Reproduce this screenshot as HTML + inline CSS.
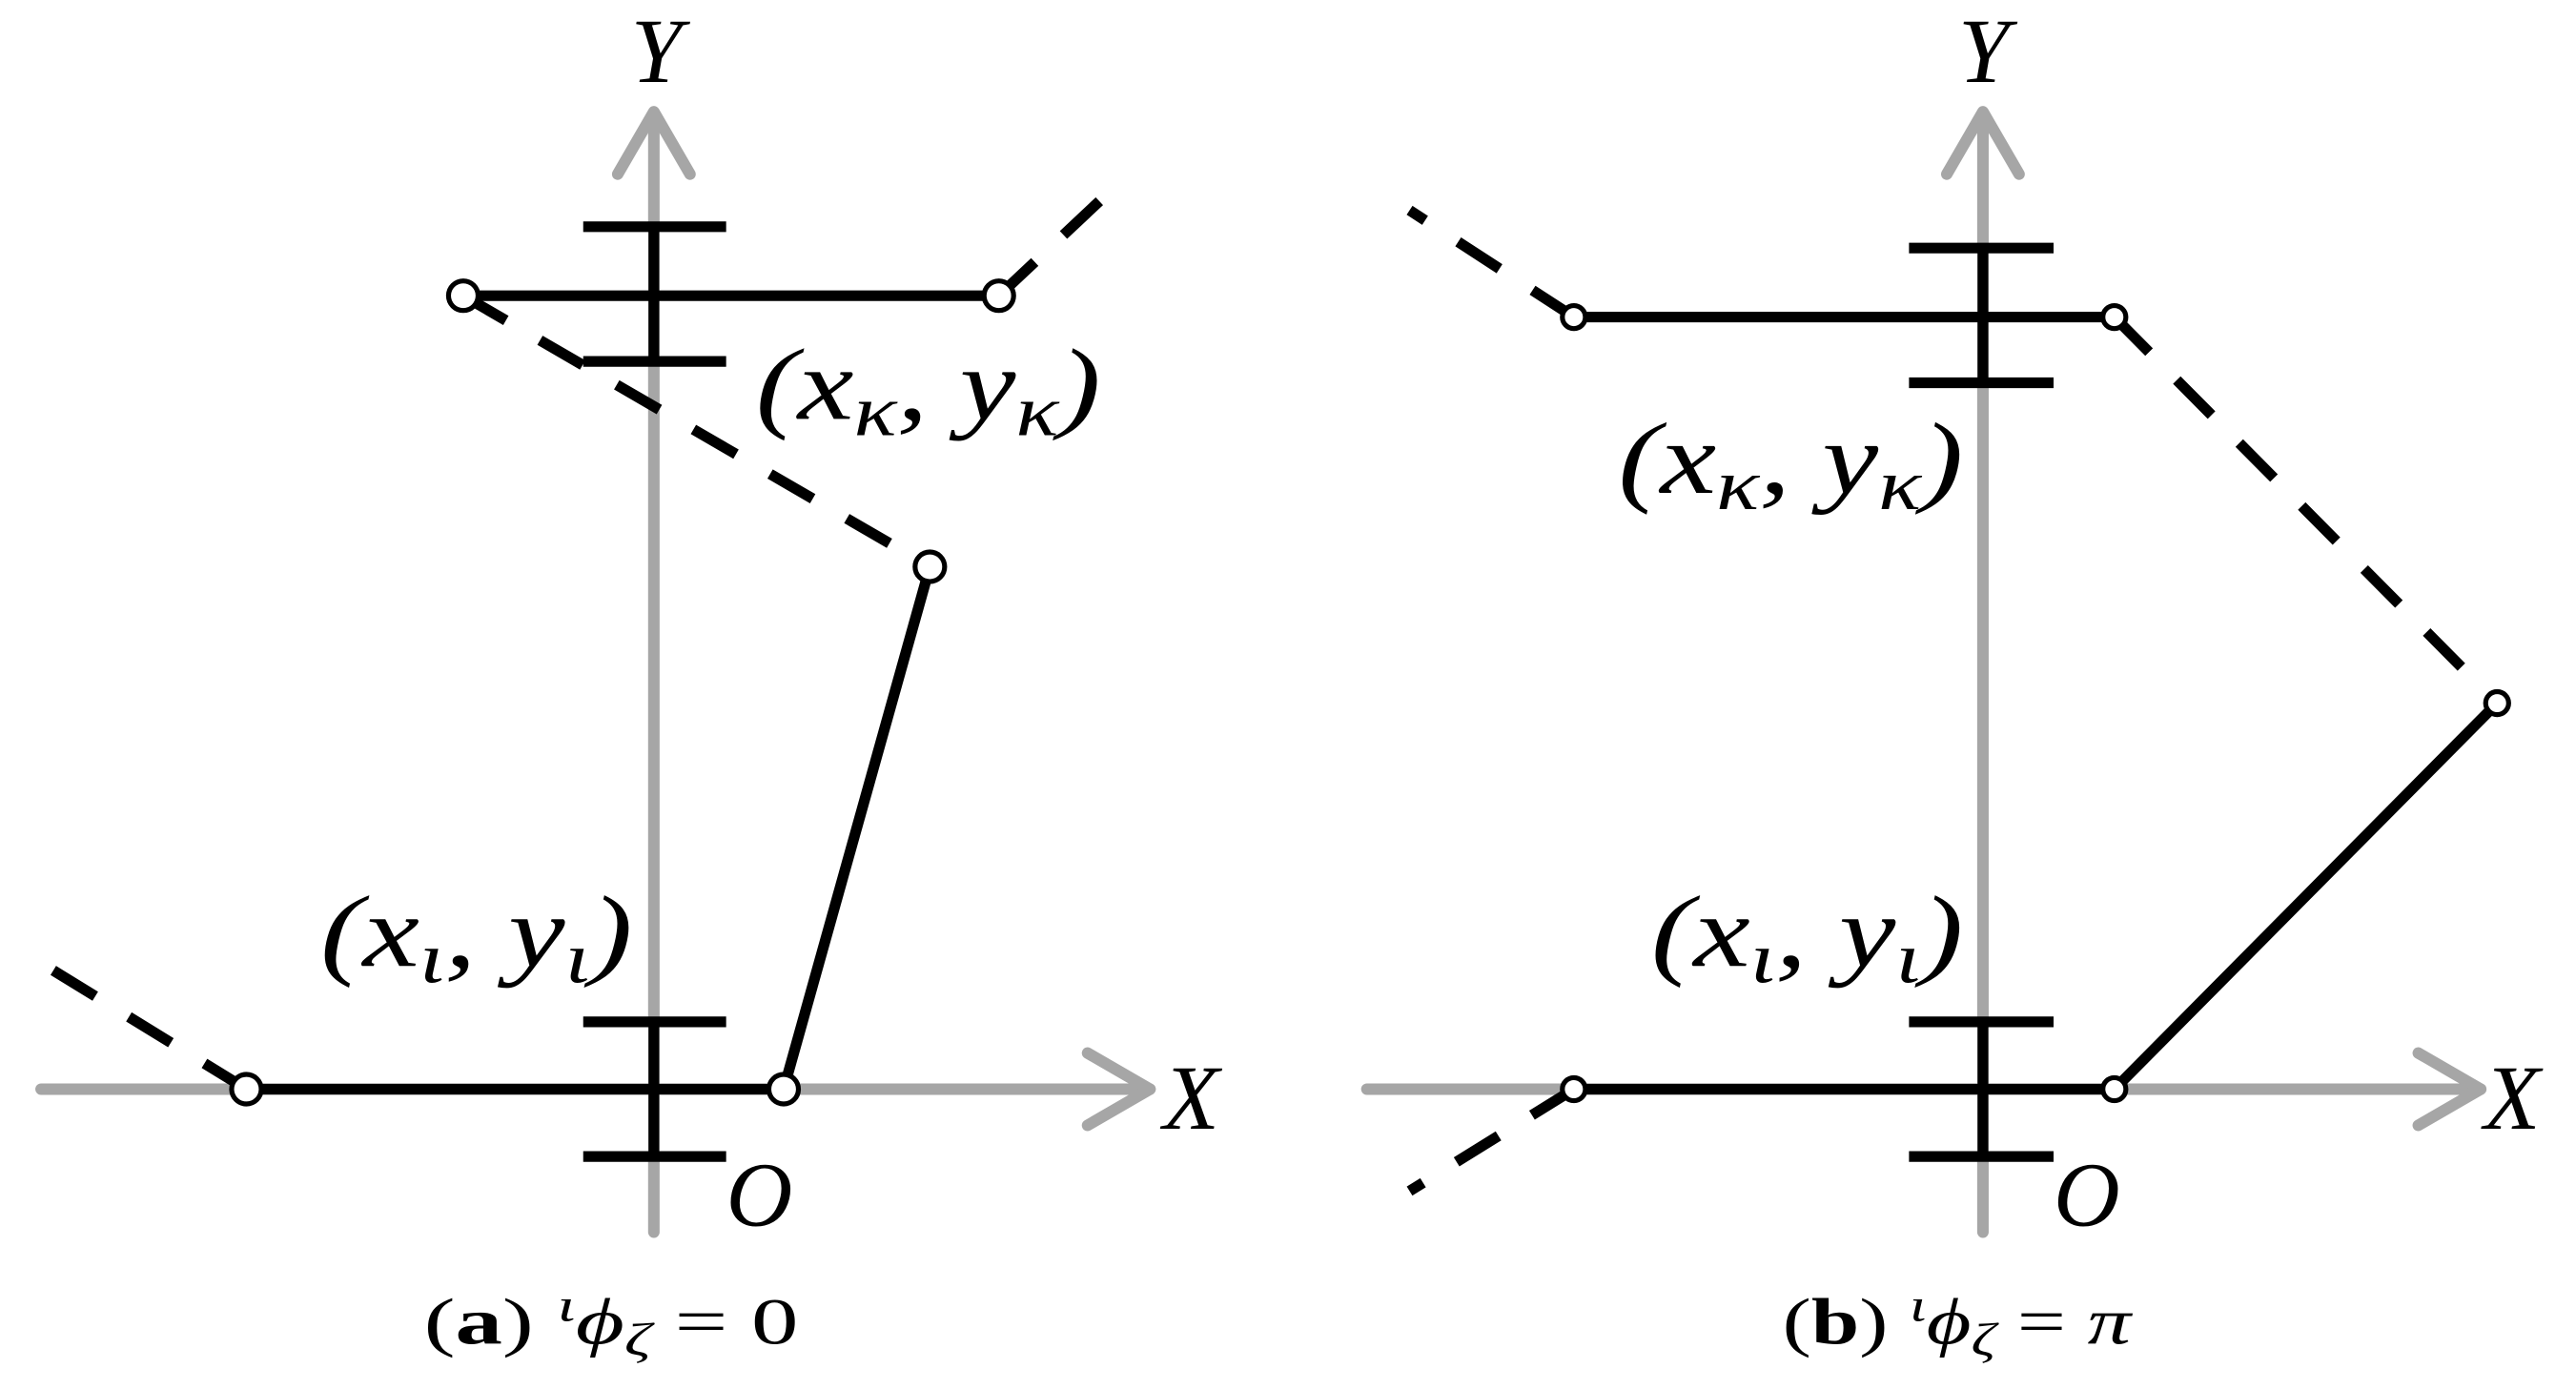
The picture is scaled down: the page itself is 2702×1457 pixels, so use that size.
<!DOCTYPE html>
<html><head><style>html,body{margin:0;padding:0;background:#fff;}svg{display:block}</style></head>
<body>
<svg width="2702" height="1457" viewBox="0 0 1568 845.5" preserveAspectRatio="none" xmlns="http://www.w3.org/2000/svg">
<g stroke="#a6a6a6" stroke-width="7" fill="none" stroke-linecap="round" stroke-linejoin="round">
<line x1="398" y1="750" x2="398" y2="70"/><polyline points="376,106 398,68 420,106"/>
<line x1="25" y1="663" x2="700" y2="663"/><polyline points="662,641 700,663 662,685"/>
<line x1="1207" y1="750" x2="1207" y2="70"/><polyline points="1185,106 1207,68 1229,106"/>
<line x1="832" y1="663" x2="1510" y2="663"/><polyline points="1472,641 1510,663 1472,685"/>
</g>
<g stroke="#000" stroke-width="6.5" fill="none">
<line x1="282" y1="180" x2="608" y2="180"/>
<line x1="355" y1="138" x2="442" y2="138"/><line x1="355" y1="220" x2="442" y2="220"/><line x1="398" y1="138" x2="398" y2="220"/>
<line x1="150" y1="663" x2="477" y2="663"/>
<line x1="355" y1="622" x2="442" y2="622"/><line x1="355" y1="704" x2="442" y2="704"/><line x1="398" y1="622" x2="398" y2="704"/>
<line x1="477" y1="663" x2="566" y2="345"/>
<g stroke-dasharray="30,24">
<line x1="282" y1="180" x2="566" y2="345"/>
<line x1="608" y1="180" x2="675" y2="117"/>
<line x1="150" y1="663" x2="15" y2="580"/>
<line x1="1287" y1="193" x2="1520" y2="428"/>
<line x1="958" y1="193" x2="858" y2="128"/>
<line x1="958" y1="663" x2="858" y2="725"/>
</g>
<line x1="958" y1="193" x2="1287" y2="193"/>
<line x1="1162" y1="151" x2="1250" y2="151"/><line x1="1162" y1="233" x2="1250" y2="233"/><line x1="1207" y1="151" x2="1207" y2="233"/>
<line x1="958" y1="663" x2="1287" y2="663"/>
<line x1="1162" y1="622" x2="1250" y2="622"/><line x1="1162" y1="704" x2="1250" y2="704"/><line x1="1207" y1="622" x2="1207" y2="704"/>
<line x1="1287" y1="663" x2="1520" y2="428"/>
</g>
<g fill="#fff" stroke="#000" stroke-width="3">
<circle cx="282" cy="180" r="9"/><circle cx="608" cy="180" r="9"/><circle cx="566" cy="345" r="9"/>
<circle cx="150" cy="663" r="9"/><circle cx="477" cy="663" r="9"/>
<circle cx="958" cy="193" r="7"/><circle cx="1287" cy="193" r="7"/><circle cx="1520" cy="428" r="7"/>
<circle cx="958" cy="663" r="7"/><circle cx="1287" cy="663" r="7"/>
</g>
<g font-family="Liberation Serif, serif" font-style="italic" font-size="56" fill="#000">
<text x="384" y="50">Y</text><text x="1192" y="50">Y</text>
<text x="708" y="687">X</text><text x="1512" y="687">X</text>
<text x="442" y="746">O</text><text x="1250" y="746">O</text>
</g>
<g font-family="Liberation Serif, serif" font-style="italic" font-size="62" fill="#000">
<text x="460" y="255" textLength="210" lengthAdjust="spacingAndGlyphs">(x<tspan font-size="44" dy="10">κ</tspan><tspan dy="-10">, y</tspan><tspan font-size="44" dy="10">κ</tspan><tspan dy="-10">)</tspan></text>
<text x="195" y="588" textLength="190" lengthAdjust="spacingAndGlyphs">(x<tspan font-size="44" dy="10">ι</tspan><tspan dy="-10">, y</tspan><tspan font-size="44" dy="10">ι</tspan><tspan dy="-10">)</tspan></text>
<text x="985" y="300" textLength="210" lengthAdjust="spacingAndGlyphs">(x<tspan font-size="44" dy="10">κ</tspan><tspan dy="-10">, y</tspan><tspan font-size="44" dy="10">κ</tspan><tspan dy="-10">)</tspan></text>
<text x="1005" y="588" textLength="190" lengthAdjust="spacingAndGlyphs">(x<tspan font-size="44" dy="10">ι</tspan><tspan dy="-10">, y</tspan><tspan font-size="44" dy="10">ι</tspan><tspan dy="-10">)</tspan></text>
</g>
<g font-family="Liberation Serif, serif" font-size="40" fill="#000">
<text x="258" y="818" textLength="228" lengthAdjust="spacingAndGlyphs">(<tspan font-weight="bold">a</tspan>) <tspan font-style="italic" font-size="28" dy="-14">ι</tspan><tspan font-style="italic" dy="14">ϕ</tspan><tspan font-style="italic" font-size="28" dy="7">ζ</tspan><tspan dy="-7"> = 0</tspan></text>
<text x="1085" y="818" textLength="212" lengthAdjust="spacingAndGlyphs">(<tspan font-weight="bold">b</tspan>) <tspan font-style="italic" font-size="28" dy="-14">ι</tspan><tspan font-style="italic" dy="14">ϕ</tspan><tspan font-style="italic" font-size="28" dy="7">ζ</tspan><tspan dy="-7"> = </tspan><tspan font-style="italic">π</tspan></text>
</g>
</svg>
</body></html>
